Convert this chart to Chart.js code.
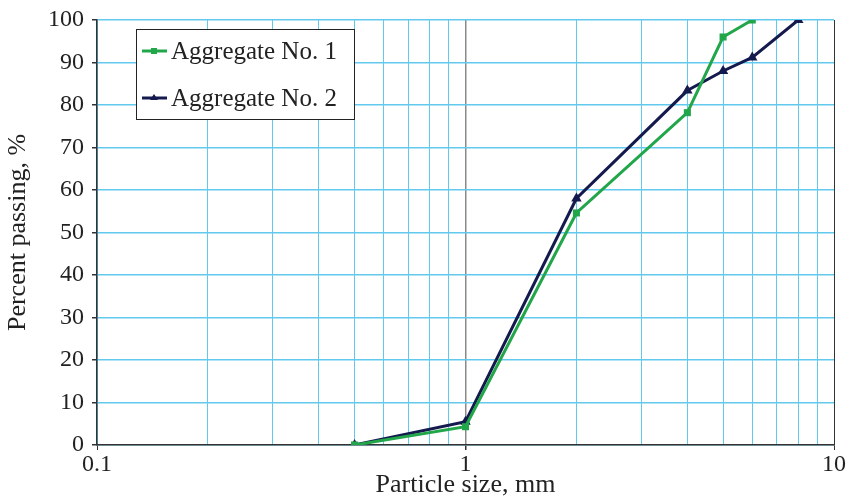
<!DOCTYPE html>
<html>
<head>
<meta charset="utf-8">
<script src="https://cdn.jsdelivr.net/npm/chart.js@4.4.1/dist/chart.umd.min.js"></script>
<style>
  html, body { margin: 0; padding: 0; background: #fff; }
  #wrap { width: 852px; height: 498px; }
</style>
</head>
<body>
<div id="wrap"><canvas id="gradingChart" width="852" height="498"></canvas></div>
<script>
// sieve sizes (mm) and percent passing
const sizes1 = [0.5, 1, 2, 4, 5, 6];
const passing1 = [0, 4.3, 54.6, 78.2, 96, 100];
const sizes2 = [0.5, 1, 2, 4, 5, 6, 8];
const passing2 = [0, 5.5, 58, 83.4, 88, 91.2, 100];

const seriesLabels = ['Aggregate No. 1', 'Aggregate No. 2'];
const xLabelTicks = [0.1, 1, 10];
const xTitle = 'Particle size, mm';
const yTitle = 'Percent passing, %';

const FONT = '"Liberation Serif", "Times New Roman", serif';
const GRID_BLUE = '#62c9ee';
const AXIS_DARK = '#333333';

const toPoints = (xs, ys) => xs.map((x, i) => ({ x: x, y: ys[i] }));
const isDecade = v => xLabelTicks.some(t => Math.abs(v - t) < 1e-9 * t + 1e-9);

// 1..9 in every decade between the labelled ticks, then the last decade
function logGridTicks() {
    const out = [];
    for (let d = 0; d < xLabelTicks.length - 1; d++) {
        for (let m = 1; m <= 9; m++) {
            out.push({ value: +(m * xLabelTicks[d]).toPrecision(6) });
        }
    }
    out.push({ value: xLabelTicks[xLabelTicks.length - 1] });
    return out;
}

// legend drawn as a boxed panel inside the plot, like the original
const boxLegend = {
    id: 'boxLegend',
    afterDraw(chart) {
        const ctx = chart.ctx;
        const left = 136, top = 29, w = 218, h = 90;
        ctx.save();
        ctx.fillStyle = '#fff';
        ctx.fillRect(left, top, w, h);
        ctx.strokeStyle = '#222';
        ctx.lineWidth = 1;
        ctx.strokeRect(left + 0.5, top + 0.5, w, h);
        const rows = [51, 98];
        chart.data.datasets.forEach((ds, i) => {
            const y = rows[i];
            ctx.strokeStyle = ds.borderColor;
            ctx.lineWidth = 3;
            ctx.beginPath();
            ctx.moveTo(142, y);
            ctx.lineTo(167, y);
            ctx.stroke();
            ctx.fillStyle = ds.borderColor;
            if (ds.pointStyle === 'rect') {
                ctx.fillRect(151, y - 3, 6, 6);
            } else {
                ctx.beginPath();
                ctx.moveTo(154, y - 4);
                ctx.lineTo(158, y + 2);
                ctx.lineTo(150, y + 2);
                ctx.closePath();
                ctx.fill();
            }
            ctx.fillStyle = '#222';
            ctx.font = '25px ' + FONT;
            ctx.textBaseline = 'middle';
            ctx.textAlign = 'left';
            ctx.fillText(ds.label, 171, y + 1);
        });
        ctx.restore();
    }
};

const ctx = document.getElementById('gradingChart').getContext('2d');
new Chart(ctx, {
    type: 'line',
    data: {
        datasets: [{
            label: seriesLabels[0],
            data: toPoints(sizes1, passing1),
            borderColor: '#22a64a',
            backgroundColor: '#22a64a',
            borderWidth: 3,
            pointStyle: 'rect',
            pointRadius: 5,
            pointBorderWidth: 0,
            tension: 0
        }, {
            label: seriesLabels[1],
            data: toPoints(sizes2, passing2),
            borderColor: '#141a4e',
            backgroundColor: '#141a4e',
            borderWidth: 3,
            pointStyle: 'triangle',
            pointRadius: 6,
            pointBorderWidth: 0,
            tension: 0
        }]
    },
    options: {
        responsive: false,
        animation: false,
        devicePixelRatio: 1,
        layout: { padding: { left: 0, right: 18, top: 18, bottom: 0 } },
        plugins: {
            legend: { display: false },
            tooltip: { enabled: false }
        },
        scales: {
            x: {
                type: 'logarithmic',
                min: 0.1,
                max: 10,
                afterBuildTicks: s => { s.ticks = logGridTicks(); },
                afterFit: s => { s.height = 53; },
                border: { display: true, color: AXIS_DARK, width: 1.5 },
                grid: {
                    color: c => {
                        const v = c.tick.value;
                        if (Math.abs(v - 1) < 1e-9) return '#8a8a8a';
                        if (Math.abs(v - 10) < 1e-9) return AXIS_DARK;
                        return GRID_BLUE;
                    },
                    lineWidth: c => (Math.abs(c.tick.value - 1) < 1e-9 ? 1.5 : 1),
                    tickColor: c => (isDecade(c.tick.value) ? AXIS_DARK : 'rgba(0,0,0,0)'),
                    tickLength: 5
                },
                ticks: {
                    autoSkip: false,
                    maxRotation: 0,
                    padding: 0,
                    color: '#222',
                    font: { family: FONT, size: 24 },
                    callback: v => (isDecade(v) ? String(v) : '')
                },
                title: {
                    display: true,
                    text: xTitle,
                    color: '#222',
                    font: { family: FONT, size: 26 },
                    padding: { top: -6, bottom: -3 }
                }
            },
            y: {
                min: 0,
                max: 100,
                afterFit: s => { s.width = 97; },
                border: { display: true, color: AXIS_DARK, width: 1.5 },
                grid: {
                    color: GRID_BLUE,
                    lineWidth: 1.5,
                    tickColor: AXIS_DARK,
                    tickLength: 5
                },
                ticks: {
                    stepSize: 10,
                    padding: 8,
                    color: '#222',
                    font: { family: FONT, size: 24, lineHeight: 1 }
                },
                title: {
                    display: true,
                    text: yTitle,
                    color: '#222',
                    font: { family: FONT, size: 26 },
                    padding: { top: 3, bottom: 0 }
                }
            }
        }
    },
    plugins: [boxLegend]
});
</script>
</body>
</html>
